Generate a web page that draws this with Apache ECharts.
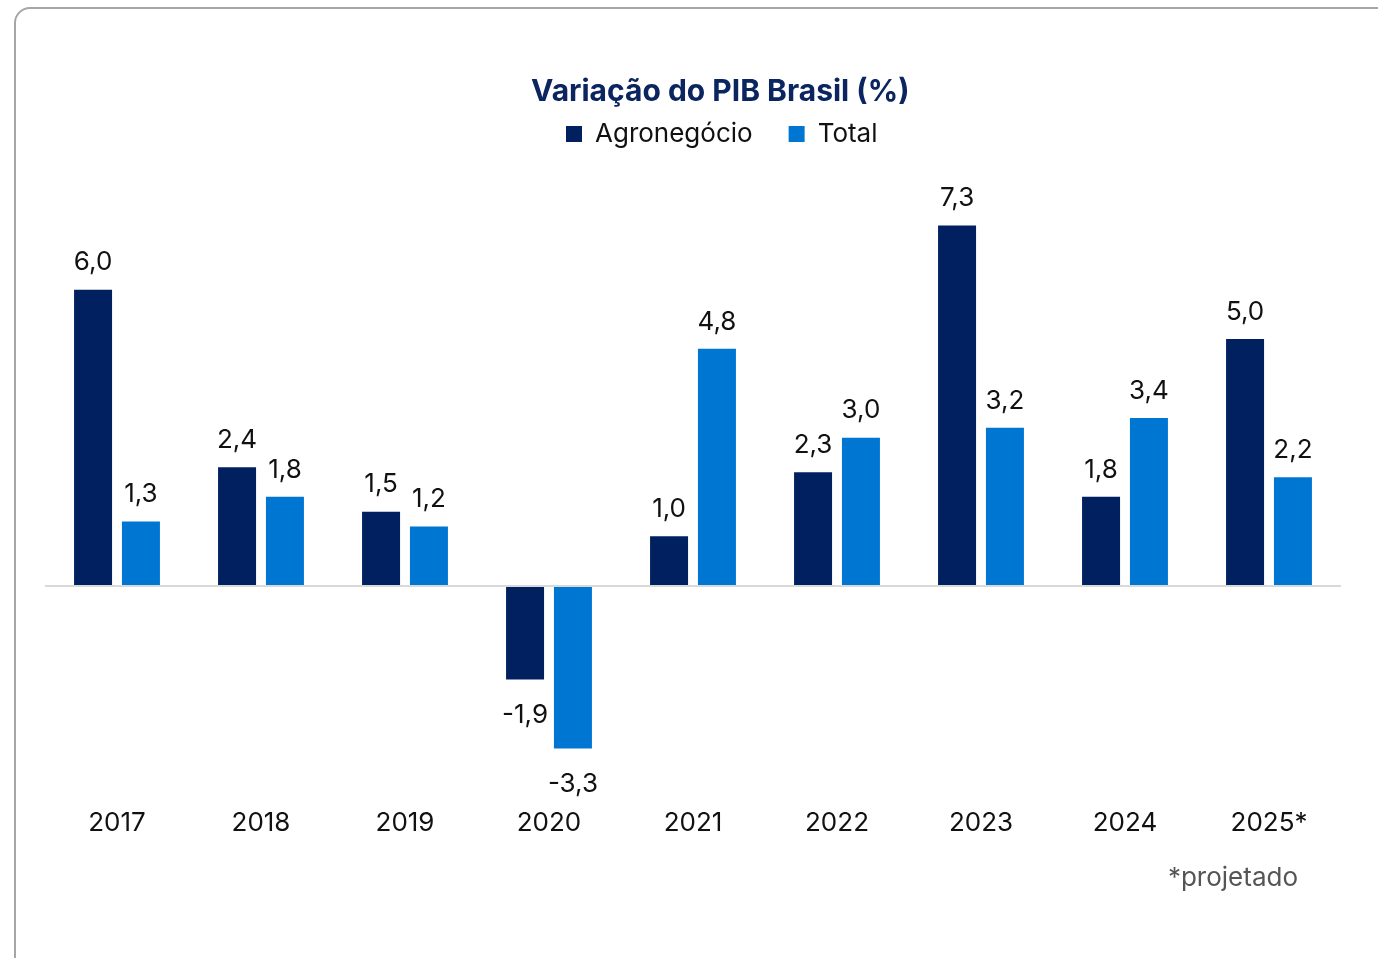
<!DOCTYPE html>
<html lang="pt">
<head>
    <meta charset="UTF-8">
    <title>Variação do PIB Brasil</title>
    <script src="https://cdn.jsdelivr.net/npm/echarts@6/dist/echarts.min.js"></script>
    <style>
        html, body { margin: 0; padding: 0; background: #fff; }
        #frame {
            position: absolute; left: 14px; top: 7px;
            width: 1400px; height: 1000px;
            border: 2px solid #a6a6a6; border-radius: 16px;
        }
        #main { position: absolute; left: 0; top: 0; width: 1378px; height: 958px; }
    </style>
</head>
<body>
<div id="frame"></div>
<div id="main"></div>
<script>
    var anos = ['2017', '2018', '2019', '2020', '2021', '2022', '2023', '2024', '2025*'];
    var agro = [6.0, 2.4, 1.5, -1.9, 1.0, 2.3, 7.3, 1.8, 5.0];
    var total = [1.3, 1.8, 1.2, -3.3, 4.8, 3.0, 3.2, 3.4, 2.2];

    var fonte = 'Inter, "Noto Sans", sans-serif';

    // rótulo embaixo quando o valor é negativo
    function pontos(arr) {
        return arr.map(function (v) {
            return {
                value: v,
                label: v < 0 ? { position: 'bottom', distance: 23 } : { position: 'top', distance: 14 }
            };
        });
    }

    var rotulo = {
        show: true,
        fontFamily: fonte,
        fontSize: 26,
        color: '#111',
        formatter: function (p) { return p.value.toFixed(1).replace('.', ','); }
    };

    var myChart = echarts.init(document.getElementById('main'));

    var option = {
        animation: false,
        title: {
            text: 'Variação do PIB Brasil (%)',
            left: 526,
            top: 72,
            textStyle: {
                fontFamily: fonte,
                fontSize: 30,
                fontWeight: 'bold',
                color: '#0b2560'
            }
        },
        legend: {
            data: ['Agronegócio', 'Total'],
            top: 116,
            left: 561,
            itemWidth: 16,
            itemHeight: 16,
            itemGap: 36,
            icon: 'rect',
            textStyle: { fontFamily: fonte, fontSize: 26, color: '#111', padding: [0, 0, 0, 8] }
        },
        grid: {
            left: 45,
            right: 37,
            top: 191,
            bottom: 175
        },
        xAxis: {
            type: 'category',
            data: anos,
            axisLine: { show: false },
            axisTick: { show: false },
            axisLabel: {
                margin: 27,
                fontFamily: fonte,
                fontSize: 26,
                color: '#111'
            }
        },
        yAxis: {
            type: 'value',
            min: -4,
            max: 8,
            interval: 2,
            show: false,
            splitLine: { show: false }
        },
        series: [{
            name: 'Agronegócio',
            type: 'bar',
            barWidth: 38,
            barGap: '26%',
            itemStyle: { color: '#002060' },
            label: rotulo,
            data: pontos(agro),
            markLine: {
                silent: true,
                symbol: 'none',
                label: { show: false },
                lineStyle: { color: '#d9d9d9', width: 2, type: 'solid' },
                data: [{ yAxis: 0 }]
            }
        },
        {
            name: 'Total',
            type: 'bar',
            barWidth: 38,
            itemStyle: { color: '#0076d3' },
            label: rotulo,
            data: pontos(total)
        }],
        graphic: [{
            type: 'text',
            right: 80,
            top: 865,
            style: {
                text: '*projetado',
                fontFamily: fonte,
                fontSize: 26,
                fill: '#555'
            }
        }]
    };

    myChart.setOption(option);
</script>
</body>
</html>
